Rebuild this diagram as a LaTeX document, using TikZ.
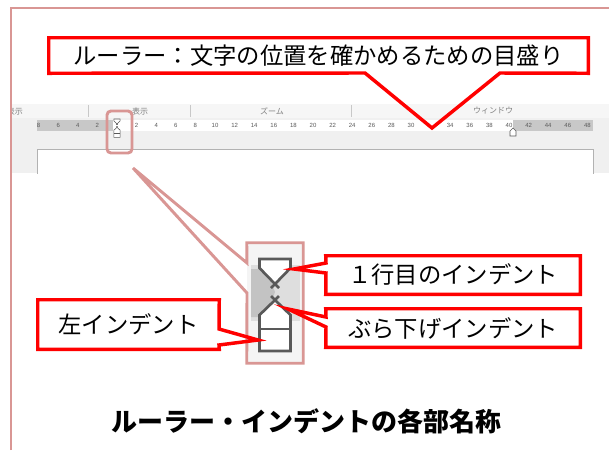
\documentclass[tikz,border=0pt]{standalone}
\usepackage{fontspec}
\newfontfamily\jpfont{Noto Sans CJK JP}
\newfontfamily\numfont{Liberation Sans}
\usetikzlibrary{arrows.meta,positioning}
\definecolor{calloutred}{RGB}{255,0,0}
\definecolor{framepink}{RGB}{217,150,148}
\definecolor{markgray}{RGB}{89,89,89}
\definecolor{tabgray}{RGB}{246,246,246}
\definecolor{barea}{RGB}{240,240,240}
\definecolor{rulergray}{RGB}{200,200,200}

\begin{document}
\begin{tikzpicture}[
        x=0.75pt, y=-0.75pt,
        callout/.style={draw=calloutred, line width=2.6pt, line join=miter},
        zoomline/.style={draw=framepink, line width=2.2pt, line join=miter},
        calltext/.style={font=\jpfont\fontsize{17.5}{20}\selectfont, inner sep=0pt, fill=white},
        rulernum/.style={font=\numfont\fontsize{4.5}{5}\selectfont, text=markgray, inner sep=0pt},
        tablabel/.style={font=\jpfont\fontsize{6}{7}\selectfont, text=gray, inner sep=0pt},
        indentmark/.pic={
            \draw[markgray, fill=white] (-15.5,0) -- (15.5,0) -- (15.5,9) -- (0,25) -- (-15.5,9) -- cycle;
            \draw[markgray] (0,25) -- (-4,29) (0,25) -- (4,29);
            \draw[markgray] (0,41) -- (-4,37) (0,41) -- (4,37);
            \draw[markgray, fill=white] (0,41) -- (15.5,56) -- (15.5,92) -- (-15.5,92) -- (-15.5,56) -- cycle;
            \draw[markgray] (-15.5,70) -- (15.5,70);
        }
    ]
    \useasboundingbox (0,0) rectangle (609,450);

    % frame
    \draw[framepink, line width=1.5pt] (11,450) -- (11,8) -- (609,8);

    % screenshot of the ruler
    \begin{scope}
        \clip (12,104) rectangle (609,173);
        \fill[barea] (12,104) rectangle (609,173);
        \fill[tabgray] (12,104) rectangle (609,118);
        \foreach \sx in {88,190,351}
            \draw[rulergray] (\sx,105) -- (\sx,117);
        \node[tablabel] (tabview) at (15,111) {表示};
        \node[tablabel] (tabshow) at (140,111) {表示};
        \node[tablabel] (tabzoom) at (272,111) {ズーム};
        \node[tablabel] (tabwin) at (493,111) {ウィンドウ};
        \fill[rulergray] (37,120) rectangle (113,131);
        \fill[white] (113,120) rectangle (513,131);
        \fill[rulergray] (513,120) rectangle (593,131);
        \foreach \n in {2,4,6,8}
            \node[rulernum] at ({117-9.8*\n},125.5) {\n};
        \foreach \n in {2,4,...,30}
            \node[rulernum] at ({117+9.8*\n},125.5) {\n};
        \foreach \n in {34,36,...,48}
            \node[rulernum] at ({117+9.8*\n},125.5) {\n};
        \draw[markgray, fill=white, line width=0.4pt] (510,136) -- (510,131) -- (513,128) -- (516,131) -- (516,136) -- cycle;
        \filldraw[fill=white, draw=gray!60, line width=0.6pt] (37,149) rectangle (593,190);
    \end{scope}
    \pic[line width=0.4pt, scale=0.2] (smallmark) at (117,119) {indentmark};
    \node[draw=framepink, line width=2.2pt, rounded corners=3pt, minimum width=18.75pt, minimum height=31.5pt, inner sep=0pt] (markbox) at (119.5,132) {};

    % ruler callout
    \node[calltext, minimum width=404.25pt, minimum height=26.25pt] (ruler) at (318.5,55.5) {ルーラー：文字の位置を確かめるための目盛り};
    \coordinate (rulerL) at (365,73);
    \coordinate (rulerR) at (500,73);
    \coordinate (rulertip) at (432,128);
    \draw[callout] (rulerL) -- (ruler.south west) -- (ruler.north west) -- (ruler.north east) -- (ruler.south east) -- (rulerR) -- (rulertip) -- cycle;

    % enlarged marker
    \node[fill=barea!70, minimum width=42pt, minimum height=90pt, inner sep=0pt] (zoombox) at (275,303) {};
    \fill[rulergray!60] (251,265) rectangle (300,321);
    \fill[rulergray!110] (251,269) -- (266,269) -- (275,292) -- (266,317) -- (251,317) -- cycle;
    \pic[line width=2pt] (bigmark) at (275,259) {indentmark};
    \coordinate (zoomA) at (247,263);
    \coordinate (zoomB) at (247,293);
    \coordinate (zoomtip) at (133,168);
    \draw[zoomline] (zoomB) -- (zoombox.south west) -- (zoombox.south east) -- (zoombox.north east) -- (zoombox.north west) -- (zoomA) -- (zoomtip) -- cycle;

    % indent callouts
    \node[calltext, minimum width=190.5pt, minimum height=28.5pt] (firstline) at (453,275) {１行目のインデント};
    \coordinate (firstA) at (326,263);
    \coordinate (firstB) at (326,273);
    \coordinate (firsttip) at (294,269);
    \draw[callout] (firstA) -- (firstline.north west) -- (firstline.north east) -- (firstline.south east) -- (firstline.south west) -- (firstB) -- (firsttip) -- cycle;

    \node[calltext, minimum width=190.5pt, minimum height=28.5pt] (hanging) at (453,328) {ぶら下げインデント};
    \coordinate (hangA) at (326,317);
    \coordinate (hangB) at (326,327);
    \coordinate (hangtip) at (288,309);
    \draw[callout] (hangA) -- (hanging.north west) -- (hanging.north east) -- (hanging.south east) -- (hanging.south west) -- (hangB) -- (hangtip) -- cycle;

    \node[calltext, minimum width=135.75pt, minimum height=36.75pt] (leftindent) at (128.5,324.5) {左インデント};
    \coordinate (leftA) at (219,329);
    \coordinate (leftB) at (219,345);
    \coordinate (lefttip) at (258,340);
    \draw[callout] (leftA) -- (leftindent.north east) -- (leftindent.north west) -- (leftindent.south west) -- (leftindent.south east) -- (leftB) -- (lefttip) -- cycle;

    % title
    \node[font=\jpfont\bfseries\fontsize{19.5}{22}\selectfont] (title) at (306.5,421) {ルーラー・インデントの各部名称};
\end{tikzpicture}
\end{document}
